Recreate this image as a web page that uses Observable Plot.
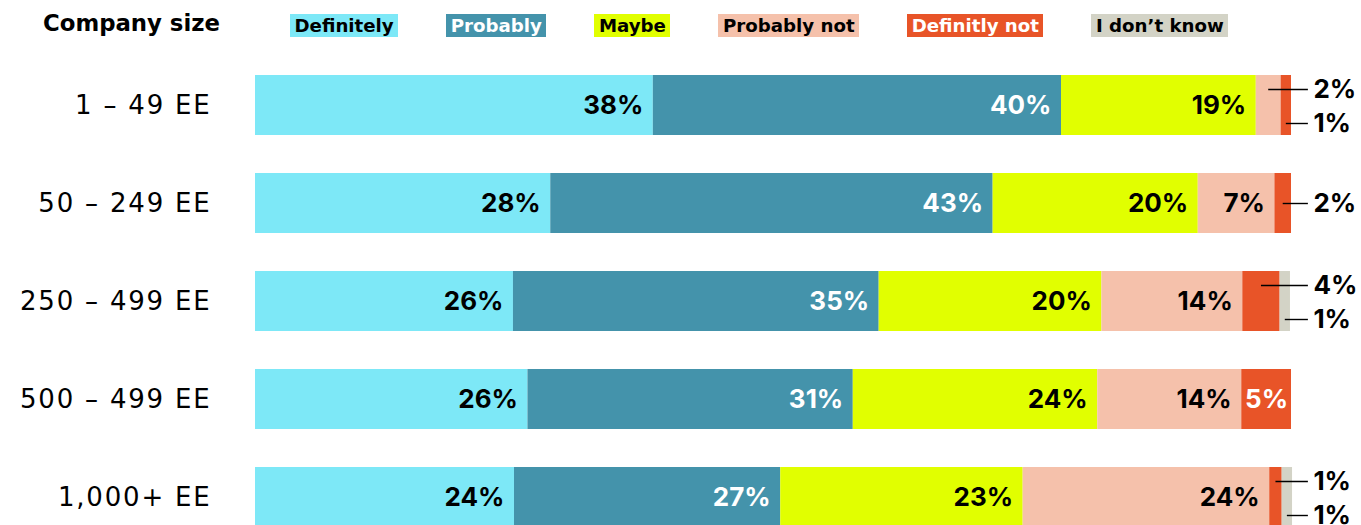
<!DOCTYPE html>
<html><head><meta charset="utf-8">
<script src="https://cdn.jsdelivr.net/npm/d3@7"></script>
<script src="https://cdn.jsdelivr.net/npm/@observablehq/plot@0.6"></script>
<style>
body{margin:0;background:#fff;overflow:hidden;}
#header{position:relative;height:50px;width:1361px;}
#title{position:absolute;left:43px;top:12px;font:700 22.8px/23px "DejaVu Sans", sans-serif;color:#000;white-space:nowrap;}
#legend{position:absolute;left:290px;top:14px;display:flex;gap:48px;}
#legend span{font:700 18.2px/23px "DejaVu Sans", sans-serif;padding:0 4.5px;height:23px;white-space:nowrap;}
#chart svg [aria-label="y-axis tick label"] text{letter-spacing:1.8px;}
</style></head><body>
<div id="header"><div id="title">Company size</div><div id="legend"></div></div>
<div id="chart"></div>
<script>
const sizes = ["1 – 49 EE", "50 – 249 EE", "250 – 499 EE", "500 – 499 EE", "1,000+ EE"];
const responses = ["Definitely", "Probably", "Maybe", "Probably not", "Definitly not", "I don’t know"];
const colors = ["#7de8f7", "#4493ab", "#e1ff00", "#f5c1ab", "#e85428", "#d3d3c6"];
const whiteText = ["Probably", "Definitly not"];

// shares
const definitely   = [38.4, 28.5, 24.9, 26.3, 25.0];
const probably     = [39.4, 42.7, 35.3, 31.4, 25.7];
const maybe        = [18.8, 19.8, 21.5, 23.6, 23.4];
const probablyNot  = [2.4, 7.4, 13.6, 13.9, 23.8];
const definitlyNot = [1.0, 1.6, 3.6, 4.8, 1.2];
const dontKnow     = [0, 0, 1.0, 0, 1.0];

// printed labels
const definitelyLbl   = [38, 28, 26, 26, 24];
const probablyLbl     = [40, 43, 35, 31, 27];
const maybeLbl        = [19, 20, 20, 24, 23];
const probablyNotLbl  = [2, 7, 14, 14, 24];
const definitlyNotLbl = [1, 2, 4, 5, 1];
const dontKnowLbl     = [null, null, 1, null, 1];

const series = [definitely, probably, maybe, probablyNot, definitlyNot, dontKnow];
const seriesLbl = [definitelyLbl, probablyLbl, maybeLbl, probablyNotLbl, definitlyNotLbl, dontKnowLbl];

// legend
const leg = document.getElementById("legend");
responses.forEach((r, j) => {
  const s = document.createElement("span");
  s.textContent = r;
  s.style.background = colors[j];
  s.style.color = whiteText.includes(r) ? "#fff" : "#000";
  leg.appendChild(s);
});

const table = [];
sizes.forEach((size, i) => {
  let cum = 0;
  responses.forEach((resp, j) => {
    const v = series[j][i];
    if (v > 0) {
      table.push({size, resp, value: v, x1: cum, x2: cum + v, mid: cum + v / 2, label: seriesLbl[j][i] + "%"});
    }
    cum += v;
  });
});

const SMALL = 4.5;
const inside = table.filter(d => d.value >= SMALL);
const small = table.filter(d => d.value < SMALL);
sizes.forEach(size => {
  const g = small.filter(d => d.size === size);
  if (g.length === 1) g[0].pos = "center";
  else g.forEach((d, k) => d.pos = k === 0 ? "upper" : "lower");
});
const LEADER_END = 101.63;
const posDy = {upper: -16, center: 0, lower: 18};

const valFont = {fontFamily: "Inter, sans-serif", fontWeight: 700, fontSize: 26};

const marks = [
  Plot.barX(table, {x1: "x1", x2: "x2", y: "size", fill: "resp"}),
  Plot.axisY({tickSize: 0, tickPadding: 44, fontSize: 26, fontFamily: "DejaVu Sans, sans-serif", label: null, fill: "#000"}),
];
for (const white of [false, true]) {
  const fill = white ? "#fff" : "#000";
  const rows = inside.filter(d => whiteText.includes(d.resp) === white);
  marks.push(Plot.text(rows.filter(d => d.value >= 6), {x: "x2", y: "size", text: "label", textAnchor: "end", dx: -10, fill, ...valFont}));
  marks.push(Plot.text(rows.filter(d => d.value < 6), {x: "mid", y: "size", text: "label", textAnchor: "middle", fill, ...valFont}));
}
for (const pos of ["upper", "center", "lower"]) {
  const rows = small.filter(d => d.pos === pos);
  marks.push(Plot.ruleY(rows, {y: "size", x1: "mid", x2: () => LEADER_END, dy: posDy[pos], stroke: "#000", strokeWidth: 1.4}));
  marks.push(Plot.text(rows, {x: () => LEADER_END, y: "size", text: "label", textAnchor: "start", dx: 5, dy: posDy[pos], fill: "#000", ...valFont}));
}

const chart = Plot.plot({
  width: 1361,
  height: 477,
  marginTop: 25,
  marginBottom: 0,
  marginLeft: 255,
  marginRight: 70,
  x: {domain: [0, 100], axis: null},
  y: {domain: sizes, paddingInner: 0.388, paddingOuter: 0, align: 0, axis: null},
  color: {domain: responses, range: colors},
  style: {fontFamily: "DejaVu Sans, sans-serif", background: "#fff"},
  marks
});
document.getElementById("chart").appendChild(chart);
</script>
</body></html>
